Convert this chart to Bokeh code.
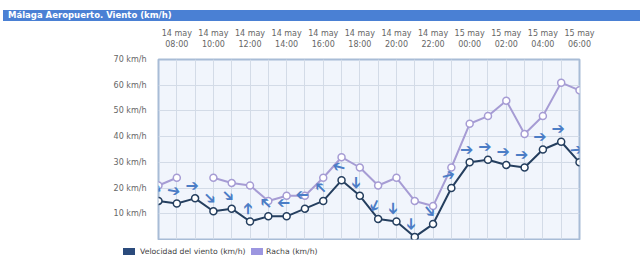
import math
from bokeh.plotting import figure
from bokeh.models import Range1d, FixedTicker, Div, ColumnDataSource
from bokeh.layouts import column
from bokeh.core.properties import value
from bokeh.embed import file_html
from bokeh.resources import INLINE

NaN = float("nan")

# ---- data ----
days = ["14 may"] * 17 + ["15 may"] * 7
times = ["07:00", "08:00", "09:00", "10:00", "11:00", "12:00", "13:00", "14:00",
         "15:00", "16:00", "17:00", "18:00", "19:00", "20:00", "21:00", "22:00",
         "23:00", "00:00", "01:00", "02:00", "03:00", "04:00", "05:00", "06:00"]
speed = [15, 14, 16, 11, 12, 7, 9, 9, 12, 15, 23, 17, 8, 7, 1, 6, 20, 30, 31, 29, 28, 35, 38, 30]
gust = [21, 24, NaN, 24, 22, 21, 15, 17, 17, 24, 32, 28, 21, 24, 15, 13, 28, 45, 48, 54, 41, 48, 61, 58]
direction = [-30, -10, 0, -45, -45, 90, 135, 180, 180, 135, 165, -90, -115, -90, -90, -50,
             15, 0, 0, 0, 0, 0, 0, 5]
y_ticks = [10, 20, 30, 40, 50, 60, 70]

title_text = "Málaga Aeropuerto. Viento (km/h)"
speed_name = "Velocidad del viento (km/h)"
gust_name = "Racha (km/h)"

idx = list(range(len(times)))
src = ColumnDataSource(dict(x=idx, speed=speed, gust=gust, ang=direction,
                            arrow=["\u2794"] * len(idx)))

FONT = "DejaVu Sans"
SPEED_C = "#253f5f"
GUST_C = "#a69cd4"
ARROW_C = "#4b7dc6"

p = figure(width=640, height=219, output_backend="svg", toolbar_location=None,
           x_range=Range1d(0, len(idx) - 1), y_range=Range1d(0, 70),
           x_axis_location="above",
           min_border_left=158, min_border_right=61, min_border_top=38, min_border_bottom=1)

p.background_fill_color = "#f1f5fc"
p.border_fill_color = "white"
p.outline_line_color = "#a8bcd6"
p.outline_line_width = 2

# axes
xa = p.xaxis[0]
xa.ticker = FixedTicker(ticks=idx[1::2])
xa.major_label_overrides = {i: f"{days[i]}\n{times[i]}" for i in idx[1::2]}
xa.axis_line_color = None
xa.major_tick_line_color = None
xa.minor_tick_line_color = None
xa.major_label_text_font = FONT
xa.major_label_text_font_size = "8px"
xa.major_label_text_color = "#666666"
xa.major_label_standoff = 5

ya = p.yaxis[0]
ya.ticker = FixedTicker(ticks=y_ticks)
ya.major_label_overrides = {v: f"{v} km/h" for v in y_ticks}
ya.axis_line_color = None
ya.major_tick_line_color = None
ya.minor_tick_line_color = None
ya.major_label_text_font = FONT
ya.major_label_text_font_size = "8px"
ya.major_label_text_color = "#666666"
ya.major_label_standoff = 6

p.xgrid.ticker = FixedTicker(ticks=idx)
p.ygrid.ticker = FixedTicker(ticks=y_ticks)
p.xgrid.grid_line_color = "#d3dbe7"
p.ygrid.grid_line_color = "#d3dbe7"

# series
p.line("x", "gust", source=src, line_color=GUST_C, line_width=2)
p.scatter("x", "gust", source=src, size=7, fill_color="white", line_color=GUST_C, line_width=1.5)
p.line("x", "speed", source=src, line_color=SPEED_C, line_width=2)
p.scatter("x", "speed", source=src, size=7, fill_color="white", line_color=SPEED_C, line_width=1.5)

# wind direction arrows
p.text("x", "speed", text="arrow", angle="ang", angle_units="deg", source=src,
       text_font=value(FONT), text_font_size="16px", text_color=ARROW_C,
       text_align="center", text_baseline="middle", x_offset=-3, y_offset=-13)

title_div = Div(text=f'<div style="margin:10px 0 0 3px;width:637px;height:11px;background:#4a80d4;'
                     f'color:white;font-family:\'DejaVu Sans\';font-weight:bold;font-size:8.5px;'
                     f'line-height:11px;padding-left:5px;box-sizing:border-box;white-space:nowrap">'
                     f'{title_text}</div>',
                width=640, height=21, margin=0)

legend_div = Div(text=(
    '<div style="position:relative;width:640px;height:39px;font-family:\'DejaVu Sans\';'
    'font-size:7.7px;color:#444444;white-space:nowrap">'
    '<span style="position:absolute;left:123px;top:8px;width:12px;height:7px;background:#2b4b7c"></span>'
    f'<span style="position:absolute;left:140px;top:6px;line-height:11px">{speed_name}</span>'
    '<span style="position:absolute;left:251px;top:8px;width:12px;height:7px;background:#9c96e0"></span>'
    f'<span style="position:absolute;left:266px;top:6px;line-height:11px">{gust_name}</span>'
    '</div>'), width=640, height=39, margin=0)

layout = column(title_div, p, legend_div, spacing=0)
open("out.html", "w").write(file_html(layout, INLINE))
